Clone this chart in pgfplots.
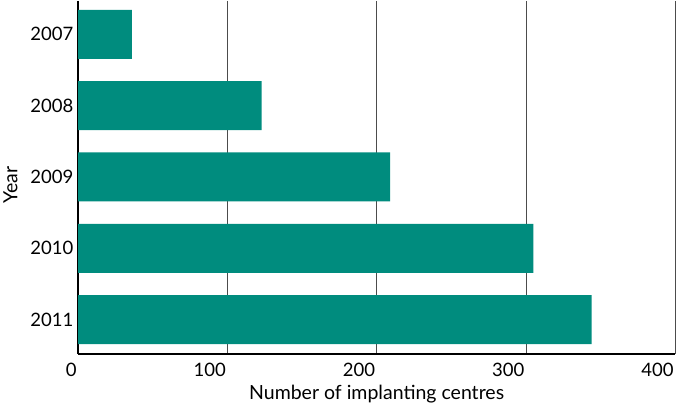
\documentclass[border=0pt]{standalone}
\usepackage{pgfplots}
\pgfplotsset{compat=1.18}
\usepackage{fontspec}
\setmainfont{Lato}
\definecolor{barteal}{RGB}{0,140,126}
\begin{document}
\begin{tikzpicture}
\begin{axis}[
  scale only axis,
  width=597pt, height=353pt,
  xbar,
  bar width=49pt,
  xmin=0, xmax=400,
  ymin=-0.47, ymax=4.48,
  y dir=reverse,
  ytick={0,1,2,3,4},
  yticklabels={2007,2008,2009,2010,2011},
  xtick={0,100,200,300,400},
  xmajorgrids,
  major grid style={black!70, line width=0.8pt},
  axis x line*=bottom,
  axis y line*=left,
  axis line style={black, line width=1.5pt},
  tick style={draw=none},
  xticklabel style={anchor=north east, xshift=2pt, yshift=-6pt},
  yticklabel style={xshift=3pt},
  ticklabel style={font=\fontsize{18.5}{22}\selectfont},
  label style={font=\fontsize{19.5}{23}\selectfont},
  /pgf/number format/assume math mode=true,
  xlabel={Number of implanting centres},
  ylabel={Year},
  xlabel style={yshift=-1pt},
  ylabel style={yshift=6pt, xshift=-8pt},
]
\addplot[fill=barteal, draw=none] coordinates {(36,0) (123,1) (209,2) (305,3) (344,4)};
\end{axis}
\end{tikzpicture}
\end{document}
